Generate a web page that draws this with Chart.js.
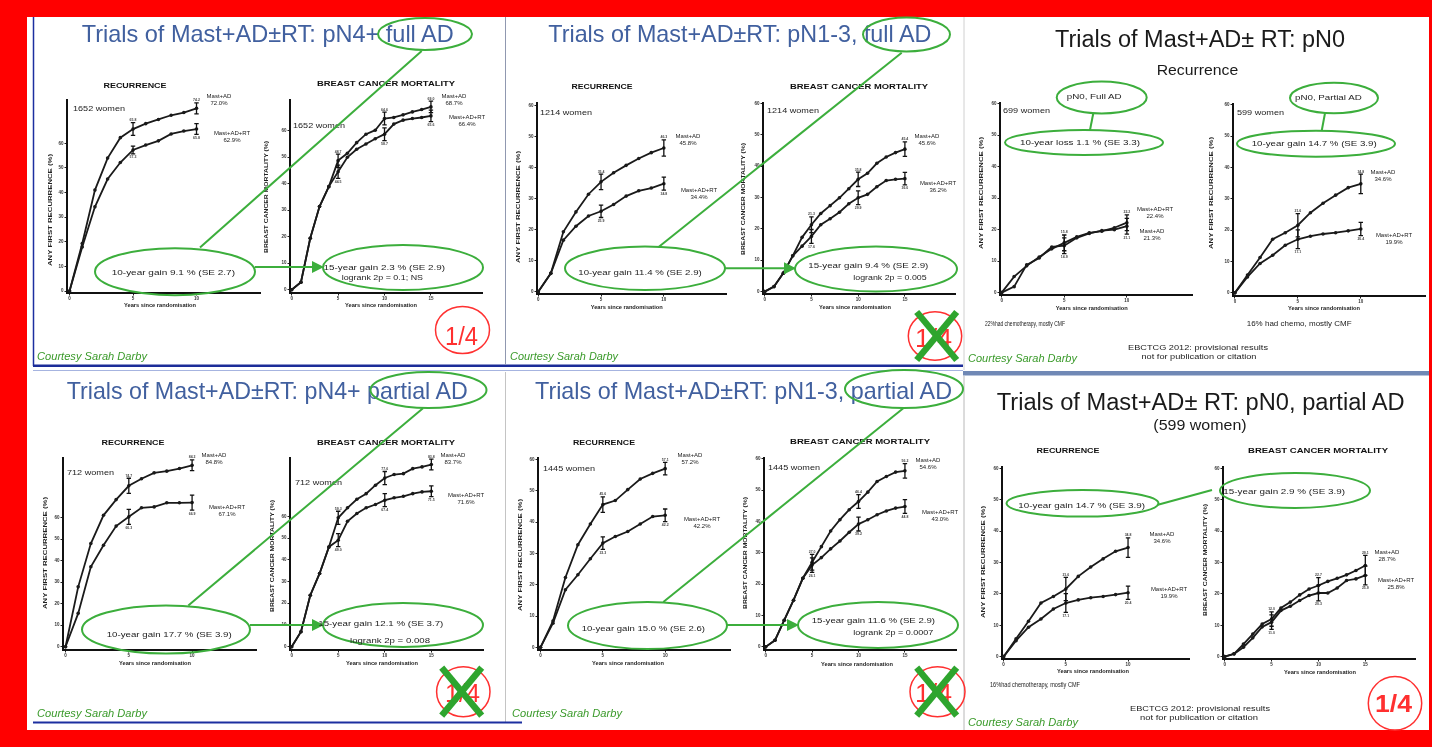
<!DOCTYPE html>
<html><head><meta charset="utf-8">
<script src="https://cdn.jsdelivr.net/npm/chart.js@4.4.1/dist/chart.umd.min.js"></script>
<style>
html,body{margin:0;padding:0;width:1432px;height:747px;overflow:hidden;background:#ff0000;}
#inner{position:absolute;left:27px;top:17px;width:1402px;height:713px;background:#fff;}
#holder{position:absolute;left:0;top:0;width:1432px;height:747px;}
canvas{position:absolute;}
#ov{position:absolute;left:0;top:0;font-family:'Liberation Sans', Arial, sans-serif;}
</style></head><body>
<div id="inner"></div>
<div id="holder"></div>
<svg id="ov" width="1432" height="747" xmlns="http://www.w3.org/2000/svg">
<defs><marker id="arr" markerWidth="6" markerHeight="6" refX="5" refY="3" orient="auto"><path d="M0,0 L6,3 L0,6 z" fill="#3cae3c"/></marker></defs>
</svg>
<script>
// ---------- data ----------
const yearsRec = [0,1,2,3,4,5,6,7,8,9,10];
const yearsMort = [0,1,2,3,4,5,6,7,8,9,10,11,12,13,14,15];
const errYearsRec = [5,10];
const errYearsMort = [5,10,15];
const xTicksRec = [0,5,10];
const xTicksMort = [0,5,10,15];
const yTicks = [0,10,20,30,40,50,60];

// pN4+ full AD
const n4FullRecAD = [0,19.3,41,54,62.3,65.8,68,69.7,71.4,72.5,74.2];
const n4FullRecRT = [0,17.9,34.2,45.5,52.2,57.3,59.3,61,63.8,65,65.8];
const n4FullRecADse = [2.6,2.2];
const n4FullRecRTse = [1.6,2.2];
const n4FullMortAD = [0,2.8,19.4,31.4,38.9,48.7,51.5,55.5,58.7,60.2,64.6,65.0,66.0,67.1,68.0,69.0];
const n4FullMortRT = [0,2.8,19.4,31.4,38.9,44.5,50.0,53.0,55.0,57.0,58.7,62.5,64.0,64.6,65.0,65.6];
const n4FullMortADse = [2.5,2.4,2.2];
const n4FullMortRTse = [2.5,2.4,2.2];
// pN1-3 full AD
const n13FullRecAD = [0,5.9,19.3,25.7,31.4,35.4,38.3,40.7,42.9,44.8,46.3];
const n13FullRecRT = [0,5.9,16.6,21.1,24.4,25.9,28.1,30.8,32.5,33.4,34.8];
const n13FullRecADse = [2.5,2.6];
const n13FullRecRTse = [2.0,2.1];
const n13FullMortAD = [0,1.6,5.9,11.4,17.3,21.3,24.9,27.4,29.9,32.8,35.8,37.7,40.9,42.9,44.3,45.4];
const n13FullMortRT = [0,1.6,5.9,11.4,14.5,17.6,21.3,23.2,25.3,28.0,29.9,31.0,33.4,35.4,35.8,36.0];
const n13FullMortADse = [2.5,2.3,2.3];
const n13FullMortRTse = [2.2,2.2,2.0];
// pN0 full AD
const n0FullRecAD = [0,1.9,8.8,11,14.5,14.9,17.4,18.8,19.7,20,21.1];
const n0FullRecRT = [0,5.1,8.5,11.3,13.9,15.8,17.7,19,19.5,20.6,22.2];
const n0FullRecADse = [2.5,2.5];
const n0FullRecRTse = [2.5,2.5];
// pN0 partial AD
const n0PartRecAD = [0,5.7,11.3,17.1,19.2,21.6,25.6,28.6,31.2,33.6,34.8];
const n0PartRecRT = [0,5.1,9.4,12,15.2,17.1,18.1,18.8,19.2,19.8,20.4];
const n0PartRecADse = [3.7,3.1];
const n0PartRecRTse = [3.0,2.1];
const n0PartMortAD = [0,0.9,4,7.2,10.4,12,15.5,17.4,19.7,21.6,22.7,24,25,26.1,27.5,29.1];
const n0PartMortRT = [0,0.9,3.0,6.0,9.5,11,14.7,16.1,17.9,19.5,20.3,20.3,21.9,24.3,24.8,25.9];
const n0PartMortADse = [2.3,2.5,3.2];
const n0PartMortRTse = [2.3,2.5,3.0];
// pN4+ partial AD
const n4PartRecAD = [0,27.8,47.9,61,68.3,74.7,78,80.7,81.5,82.7,84.2];
const n4PartRecRT = [0,15.5,37.1,47.1,56,60.3,64.5,64.9,66.8,66.8,66.9];
const n4PartRecADse = [3.5,2.5];
const n4PartRecRTse = [3.5,3.5];
const n4PartMortAD = [0,6.9,23.7,33.7,45.9,59.3,63.9,67.8,70.4,74.3,77.6,79.2,79.6,81.9,82.7,83.8];
const n4PartMortRT = [0,6.9,23.7,33.7,45.9,49,57.7,61.3,63.9,65.4,67.4,68.5,69.2,70.4,71.2,71.5];
const n4PartMortADse = [3,3,2.5];
const n4PartMortRTse = [3,3,2.5];
// pN1-3 partial AD
const n13PartRecAD = [0,8.4,22.3,32.8,39.4,45.6,46.9,50.4,53.8,55.6,57.1];
const n13PartRecRT = [0,7.7,18.4,23.2,28.3,33.3,35.4,37,39.4,41.8,42.2];
const n13PartRecADse = [2.5,2];
const n13PartRecRTse = [2,2];
const n13PartMortAD = [0,2.1,8.5,14.9,21.9,27,32,37,40.6,43.8,46.4,49.4,52.8,54.4,55.8,56.2];
const n13PartMortRT = [0,2.1,8.5,14.9,21.9,26.1,28.5,31.3,33.8,36.6,39.2,40.6,42.2,43.4,44.3,44.8];
const n13PartMortADse = [2.5,2.2,2.3];
const n13PartMortRTse = [2.3,2.2,2.2];

// ---------- layout ----------
const REC = 'ANY FIRST RECURRENCE (%)', MORT = 'BREAST CANCER MORTALITY (%)';
const layouts = [
 {box:[67.3,100,260,292.7], xr:[-0.2,15], yr:[-0.8,77.6], xt:xTicksRec, yrs:yearsRec, ey:errYearsRec, ad:n4FullRecAD, rt:n4FullRecRT, adSe:n4FullRecADse, rtSe:n4FullRecRTse,
  title:['RECURRENCE',135,87.5,63], women:['1652 women',73,111,52], adLab:[219,98,'72.0%'], rtLab:[232,135,'62.9%'], yTitle:[REC,50.7,210], xTitle:[160,307]},
 {box:[290,100,481.7,293.3], xr:[-0.18,20.5], yr:[-1.25,71.6], xt:xTicksMort, yrs:yearsMort, ey:errYearsMort, ad:n4FullMortAD, rt:n4FullMortRT, adSe:n4FullMortADse, rtSe:n4FullMortRTse,
  title:['BREAST CANCER MORTALITY',386,85.8,138], women:['1652 women',293,128,52], adLab:[454,98,'68.7%'], rtLab:[467,119,'66.4%'], yTitle:[MORT,266.7,197], xTitle:[381,307]},
 {box:[537.3,102.7,726.7,294], xr:[-0.1,14.95], yr:[-0.75,60.8], xt:xTicksRec, yrs:yearsRec, ey:errYearsRec, ad:n13FullRecAD, rt:n13FullRecRT, adSe:n13FullRecADse, rtSe:n13FullRecRTse,
  title:['RECURRENCE',602,88.5,61], women:['1214 women',540,114.5,52], adLab:[688,138,'45.8%'], rtLab:[699,192,'34.4%'], yTitle:[REC,518,207], xTitle:[626.7,308.5]},
 {box:[763.3,103.3,955,294], xr:[-0.18,20.36], yr:[-0.75,60.1], xt:xTicksMort, yrs:yearsMort, ey:errYearsMort, ad:n13FullMortAD, rt:n13FullMortRT, adSe:n13FullMortADse, rtSe:n13FullMortRTse,
  title:['BREAST CANCER MORTALITY',859,88.5,138], women:['1214 women',767,113,52], adLab:[927,138,'45.6%'], rtLab:[938,185,'36.2%'], yTitle:[MORT,743.3,199], xTitle:[855,309]},
 {box:[1000,103.3,1191.7,295], xr:[-0.13,15.2], yr:[-0.75,60.2], xt:xTicksRec, yrs:yearsRec, ey:errYearsRec, ad:n0FullRecAD, rt:n0FullRecRT, adSe:n0FullRecADse, rtSe:n0FullRecRTse,
  title:null, women:['699 women',1003,113,47], adLab:[1152,233,'21.3%'], rtLab:[1155,211,'22.4%'], yTitle:[REC,981.7,193], xTitle:[1091.7,310]},
 {box:[1233.3,104,1425,295.7], xr:[-0.15,15.1], yr:[-1,60.3], xt:xTicksRec, yrs:yearsRec, ey:errYearsRec, ad:n0PartRecAD, rt:n0PartRecRT, adSe:n0PartRecADse, rtSe:n0PartRecRTse,
  title:null, women:['599 women',1237,114.5,47], adLab:[1383,174,'34.6%'], rtLab:[1394,237,'19.9%'], yTitle:[REC,1211.7,193], xTitle:[1324,310]},
 {box:[63.3,457.7,256.7,650], xr:[-0.2,15.05], yr:[-1.5,87.6], xt:xTicksRec, yrs:yearsRec, ey:errYearsRec, ad:n4PartRecAD, rt:n4PartRecRT, adSe:n4PartRecADse, rtSe:n4PartRecRTse,
  title:['RECURRENCE',133,444.8,63], women:['712 women',67,474.5,47], adLab:[214,457,'84.8%'], rtLab:[227,509,'67.1%'], yTitle:[REC,45,553], xTitle:[155,665]},
 {box:[290,457.7,482.7,650], xr:[-0.18,20.55], yr:[-1.5,86.8], xt:xTicksMort, yrs:yearsMort, ey:errYearsMort, ad:n4PartMortAD, rt:n4PartMortRT, adSe:n4PartMortADse, rtSe:n4PartMortRTse,
  title:['BREAST CANCER MORTALITY',386,444.8,138], women:['712 women',295,485,47], adLab:[453,457,'83.7%'], rtLab:[466,497,'71.6%'], yTitle:[MORT,272.7,556], xTitle:[382,664.5]},
 {box:[538.3,458.3,730,650], xr:[-0.2,15.2], yr:[-0.85,60.5], xt:xTicksRec, yrs:yearsRec, ey:errYearsRec, ad:n13PartRecAD, rt:n13PartRecRT, adSe:n13PartRecADse, rtSe:n13PartRecRTse,
  title:['RECURRENCE',604,444.8,62], women:['1445 women',543,470.5,52], adLab:[690,457,'57.2%'], rtLab:[702,521,'42.2%'], yTitle:[REC,520,555], xTitle:[628,665]},
 {box:[764.3,458.3,956.7,650], xr:[-0.18,20.5], yr:[-1,60.3], xt:xTicksMort, yrs:yearsMort, ey:errYearsMort, ad:n13PartMortAD, rt:n13PartMortRT, adSe:n13PartMortADse, rtSe:n13PartMortRTse,
  title:['BREAST CANCER MORTALITY',860,443.5,140], women:['1445 women',768,470,52], adLab:[928,462,'54.6%'], rtLab:[940,514,'43.0%'], yTitle:[MORT,745,553], xTitle:[857,666]},
 {box:[1001.7,466.7,1188.3,658.3], xr:[-0.13,14.9], yr:[-0.75,60.5], xt:xTicksRec, yrs:yearsRec, ey:errYearsRec, ad:n0PartRecAD, rt:n0PartRecRT, adSe:n0PartRecADse, rtSe:n0PartRecRTse,
  title:['RECURRENCE',1068,452.5,63], women:null, adLab:[1162,536,'34.6%'], rtLab:[1169,591,'19.9%'], yTitle:[REC,983,562], xTitle:[1093,673]},
 {box:[1223.3,466.7,1415,658.3], xr:[-0.18,20.3], yr:[-0.75,60.5], xt:xTicksMort, yrs:yearsMort, ey:errYearsMort, ad:n0PartMortAD, rt:n0PartMortRT, adSe:n0PartMortADse, rtSe:n0PartMortRTse,
  title:['BREAST CANCER MORTALITY',1318,452.5,140], women:null, adLab:[1387,554,'28.7%'], rtLab:[1396,582,'25.8%'], yTitle:[MORT,1205,560], xTitle:[1320,674]}
];

const PAD = {l:13, t:5, r:5, b:9};
const FONT = "'Liberation Sans', Arial, sans-serif";

const errPlugin = {
  id:'errbars',
  afterDatasetsDraw(chart){
    const ctx = chart.ctx, xs = chart.scales.x, ys = chart.scales.y;
    const dsets = chart.data.datasets;
    dsets.forEach((ds, i) => {
      const other = dsets[1-i];
      (ds.errYears||[]).forEach((yr,k) => {
        const pt = ds.data.find(p => p.x === yr); if(!pt) return;
        const op = other.data.find(p => p.x === yr);
        const e = ds.se[k];
        const px = xs.getPixelForValue(yr), y1 = ys.getPixelForValue(pt.y + e), y2 = ys.getPixelForValue(pt.y - e);
        ctx.save();
        ctx.strokeStyle = '#111'; ctx.lineWidth = 1.3;
        ctx.beginPath();
        ctx.moveTo(px,y1); ctx.lineTo(px,y2);
        ctx.moveTo(px-2.2,y1); ctx.lineTo(px+2.2,y1);
        ctx.moveTo(px-2.2,y2); ctx.lineTo(px+2.2,y2);
        ctx.stroke();
        ctx.font = 'bold 3.5px ' + FONT; ctx.fillStyle = '#444'; ctx.textAlign = 'center';
        const above = !op || pt.y >= op.y;
        ctx.fillText(pt.y.toFixed(1), px, above ? y1 - 1.5 : y2 + 4.5);
        ctx.restore();
      });
    });
  }
};

function scaleOpts(min, max, ticks, axis){
  return {
    type:'linear', min, max,
    afterBuildTicks: s => { s.ticks = ticks.map(v => ({value:v})); },
    afterFit: s => { if(axis === 'x') s.height = PAD.b; else s.width = PAD.l; },
    grid:{display:true, drawOnChartArea:false, drawTicks:true, tickLength:2.5, color:'#222', lineWidth:1},
    border:{display:true, color:'#111', width:2},
    ticks:{autoSkip:false, maxRotation:0, minRotation:0, padding:1, color:'#333', font:{family:FONT, size:4.5, weight:'bold'}}
  };
}

function series(years, vals, se, ey){
  return {
    data: years.map((x,i) => ({x, y: vals[i]})),
    borderColor:'#1a1a1a', backgroundColor:'#1a1a1a', borderWidth:1.8,
    pointRadius:1.8, pointBorderWidth:0, tension:0, errYears: ey, se
  };
}

const holder = document.getElementById('holder');
layouts.forEach(L => {
  const [bl,bt,br,bb] = L.box;
  const w = Math.round(br - bl), h = Math.round(bb - bt);
  const cv = document.createElement('canvas');
  cv.width = w + PAD.l + PAD.r; cv.height = h + PAD.t + PAD.b;
  cv.style.left = (bl - PAD.l) + 'px'; cv.style.top = (bt - PAD.t) + 'px';
  cv.style.width = cv.width + 'px'; cv.style.height = cv.height + 'px';
  holder.appendChild(cv);
  new Chart(cv, {
    type:'line',
    data:{datasets:[series(L.yrs, L.ad, L.adSe, L.ey), series(L.yrs, L.rt, L.rtSe, L.ey)]},
    options:{
      responsive:false, animation:false, devicePixelRatio:1,
      layout:{padding:{left:0, top:PAD.t, right:PAD.r, bottom:0}},
      plugins:{legend:{display:false}, tooltip:{enabled:false}},
      scales:{x:scaleOpts(L.xr[0], L.xr[1], L.xt, 'x'), y:scaleOpts(L.yr[0], L.yr[1], yTicks, 'y')}
    },
    plugins:[errPlugin]
  });
});

// ---------- overlay ----------
const NS = 'http://www.w3.org/2000/svg';
const svg = document.getElementById('ov');
function el(tag, attrs){ const e = document.createElementNS(NS, tag); for(const k in attrs) e.setAttribute(k, attrs[k]); svg.appendChild(e); return e; }
function txt(s, x, y, o={}){
  const a = {x, y, 'font-size': o.size || 8, fill: o.fill || '#222', 'text-anchor': o.anchor || 'start'};
  if(o.weight) a['font-weight'] = o.weight;
  if(o.italic) a['font-style'] = 'italic';
  if(o.len){ a.textLength = o.len; a.lengthAdjust = 'spacingAndGlyphs'; }
  if(o.rot) a.transform = `rotate(${o.rot} ${x} ${y})`;
  if(o.db) a['dominant-baseline'] = o.db;
  const e = el('text', a); e.style.fontFamily = FONT; e.textContent = s; return e;
}
function line(x1,y1,x2,y2,stroke,w,extra={}){ return el('line', Object.assign({x1,y1,x2,y2,stroke,'stroke-width':w}, extra)); }

// panel borders
line(33.5,17,33.5,366,'#1c2fa0',1.5);
line(33,365.8,963,365.8,'#1c2c98',2.5);
line(33,370.5,963,370.5,'#a6b4e0',1);
el('rect',{x:963,y:371,width:466,height:4.5,fill:'#7088b5'});
line(505.5,17,505.5,365,'#9098b0',1);
line(505.5,372,505.5,722,'#c4c4c4',1);
line(964,17,964,370,'#d0d0d0',1);
line(964,376,964,730,'#b8b8b8',1);
line(33,722.5,522,722.5,'#1c2fa0',2);

// chart texts
layouts.forEach(L => {
  if(L.title) txt(L.title[0], L.title[1], L.title[2], {size:6.5, weight:'bold', anchor:'middle', len:L.title[3], fill:'#111'});
  if(L.women) txt(L.women[0], L.women[1], L.women[2], {size:8, len:L.women[3], fill:'#222'});
  txt('Mast+AD', L.adLab[0], L.adLab[1], {size:6, anchor:'middle'});
  txt(L.adLab[2], L.adLab[0], L.adLab[1]+6.5, {size:6, anchor:'middle'});
  txt('Mast+AD+RT', L.rtLab[0], L.rtLab[1], {size:6, anchor:'middle'});
  txt(L.rtLab[2], L.rtLab[0], L.rtLab[1]+6.5, {size:6, anchor:'middle'});
  txt(L.yTitle[0], L.yTitle[1], L.yTitle[2], {size:4.5, weight:'bold', anchor:'middle', rot:-90, db:'central', len:112, fill:'#222'});
  txt('Years since randomisation', L.xTitle[0], L.xTitle[1], {size:4.5, weight:'bold', anchor:'middle', len:72, fill:'#222'});
});

// panel titles
const BLUE = '#41609f';
txt('Trials of Mast+AD±RT: pN4+ full AD', 81.7, 41.5, {size:24, fill:BLUE, len:372});
txt('Trials of Mast+AD±RT: pN1-3, full AD', 548.3, 41.5, {size:24, fill:BLUE, len:383});
txt('Trials of Mast+AD±RT: pN4+ partial AD', 66.7, 398.5, {size:24, fill:BLUE, len:401});
txt('Trials of Mast+AD±RT: pN1-3, partial AD', 535, 398.5, {size:24, fill:BLUE, len:417});
txt('Trials of Mast+AD± RT: pN0', 1055, 46.5, {size:23, fill:'#1a1a1a', len:290});
txt('Recurrence', 1156.7, 75, {size:15, fill:'#1a1a1a', len:81.6});
txt('Trials of Mast+AD± RT: pN0, partial AD', 996.7, 410, {size:23, fill:'#1a1a1a', len:408});
txt('(599 women)', 1153.3, 430, {size:15, fill:'#1a1a1a', len:93.4});

// notes
const CG = '#3a9a2a';
[[37,360,110],[510,360,108],[968,361.5,109],[37,716.5,110],[512,716.5,110],[968,725.5,110]].forEach(p =>
  txt('Courtesy Sarah Darby', p[0], p[1], {size:11, italic:true, fill:CG, len:p[2]}));
txt('EBCTCG 2012: provisional results', 1198, 349.5, {size:7, anchor:'middle', len:140});
txt('not for publication or citation', 1199, 359, {size:7, anchor:'middle', len:115});
txt('EBCTCG 2012: provisional results', 1200, 711, {size:7, anchor:'middle', len:140});
txt('not for publication or citation', 1199, 719.5, {size:7, anchor:'middle', len:118});
txt('22%had chemotherapy, mostly CMF', 985, 325.5, {size:6.5, len:80});
txt('16% had chemo, mostly CMF', 1246.7, 325.5, {size:6.5, len:105});
txt('16%had chemotherapy, mostly CMF', 990, 686.5, {size:6.5, len:90});

// green annotation ellipses and lines
const G = '#3cae3c';
function ell(cx,cy,rx,ry){ el('ellipse',{cx,cy,rx,ry,fill:'none',stroke:G,'stroke-width':2}); }
[[425,34,47,16],[175,271.7,80,23.5],[403,267.5,80,22.5],
 [906.5,34.5,43.5,17],[645,268.3,80,21.7],[876,269,81,22.5],
 [1101.7,97.5,45,16],[1084,142.5,79,12.5],[1334,98,44,15.3],[1316,143.7,79,13],
 [428.5,390,58,18],[166,629.5,84,24],[403,625,80,22],
 [904,389,59,19],[647.5,625.5,79.5,23.5],[878,625,80,23],
 [1082.5,503.3,76,13.3],[1295,490.5,75,17.5]].forEach(e => ell(...e));
line(421.7,51,200,247.5,G,2);
line(901.7,52.7,658.3,247.3,G,2);
line(423,408.3,188.3,605.5,G,2);
line(903.3,408.3,663.3,602,G,2);
line(1093.3,113.3,1090,130,G,2);
line(1325,113.3,1321.7,130.7,G,2);
line(1157,505,1212,490,G,2);
line(255,267,322,267,G,2,{'marker-end':'url(#arr)'});
line(725,268.3,794,268.3,G,2,{'marker-end':'url(#arr)'});
line(250,625,322,625,G,2,{'marker-end':'url(#arr)'});
line(727,625,797,625,G,2,{'marker-end':'url(#arr)'});

// texts inside ellipses
const ET = [
 ['10-year gain  9.1 % (SE 2.7)',111.7,274.5,123.3],
 ['15-year gain  2.3 % (SE 2.9)',323.5,269.5,121.5],['logrank 2p = 0.1; NS',341.7,279.5,81.3],
 ['10-year gain  11.4 % (SE 2.9)',578.3,274.5,123.4],
 ['15-year gain  9.4 % (SE 2.9)',808.3,268,120],['logrank 2p = 0.005',853.3,279.5,73.4],
 ['pN0, Full AD',1066.7,99,55],['10-year loss  1.1 % (SE 3.3)',1020,144.5,120],
 ['pN0, Partial AD',1295,100,66.7],['10-year gain  14.7 % (SE 3.9)',1251.7,145.5,125],
 ['10-year gain  17.7 % (SE 3.9)',106.7,637,125],
 ['15-year gain  12.1 % (SE 3.7)',318.3,626,125],['logrank 2p = 0.008',350,643,80],
 ['10-year gain  15.0 % (SE 2.6)',581.7,630.5,123.3],
 ['15-year gain  11.6 % (SE 2.9)',811.7,623,123.3],['logrank 2p = 0.0007',853.3,634.5,80],
 ['10-year gain  14.7 % (SE 3.9)',1018.3,508,126.7],
 ['15-year gain  2.9 % (SE 3.9)',1223.3,494,121.7]
];
ET.forEach(t => txt(t[0], t[1], t[2], {size:8, len:t[3], fill:'#222'}));

// red "1/4" marks
const R = '#ff3030';
function quarter(cx,cy,rx,ry,tx,ty,len,bold,cross){
  el('ellipse',{cx,cy,rx,ry,fill:'none',stroke:R,'stroke-width':1.5});
  txt('1/4', tx, ty, {size: bold?23:26, weight: bold?'bold':'normal', fill:R, anchor:'middle', len});
  if(cross){
    const [xc,yc] = cross;
    line(xc-20,yc-24,xc+20,yc+24,'#2ea52e',6.5);
    line(xc+20,yc-24,xc-20,yc+24,'#2ea52e',6.5);
  }
}
quarter(462.5,330,27,23.5,461.5,344.5,33,false,null);
quarter(935,336,26.7,24.2,933.5,346.5,37,false,[936.7,336]);
quarter(463.3,691.7,26.7,25,462.5,702,35,false,[461.7,691.7]);
quarter(937.5,691.7,27.5,25,933.5,701.7,37,false,[936.7,691.7]);
quarter(1395,703.3,26.7,26.7,1393.5,711.5,37,true,null);
</script>
</body></html>
